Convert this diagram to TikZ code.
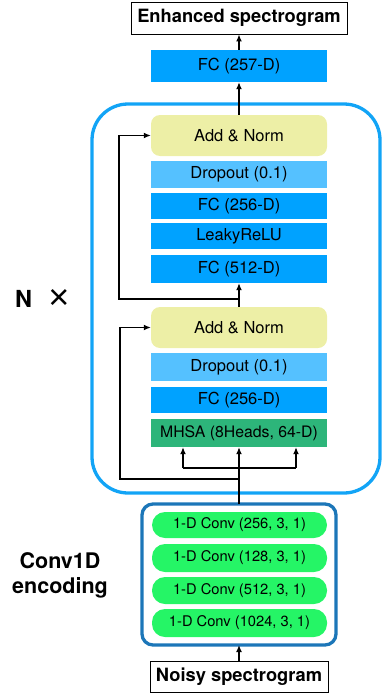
\documentclass[tikz,border=0pt]{standalone}
\usepackage{fontspec}
\setmainfont{TeX Gyre Heros}
\newfontfamily\libsans{Liberation Sans}
\usetikzlibrary{arrows.meta}
\definecolor{outerblue}{HTML}{12A4F6}
\definecolor{addnorm}{HTML}{EDEFA6}
\definecolor{dropblue}{HTML}{55C1FF}
\definecolor{fcblue}{HTML}{00A2FF}
\definecolor{mhsagreen}{HTML}{2DB57A}
\definecolor{convgreen}{HTML}{25F566}
\definecolor{convbox}{HTML}{1C76B8}
\tikzset{
  layer/.style={rectangle, minimum width=176pt, inner sep=0pt, font=\fontsize{16.5}{19}\selectfont, text=black},
  fcbox/.style={layer, fill=fcblue, minimum height=27pt},
  dropbox/.style={layer, fill=dropblue, minimum height=27pt},
  normbox/.style={layer, fill=addnorm, rounded corners=9pt, minimum height=41pt},
  mhsabox/.style={layer, fill=mhsagreen, minimum height=28pt, font=\fontsize{15.8}{19}\selectfont},
  convlayer/.style={rectangle, rounded corners=13pt, fill=convgreen, minimum width=175pt, minimum height=27pt, inner sep=0pt, font=\fontsize{14.7}{17}\selectfont},
  iobox/.style={rectangle, draw=black, line width=0.9pt, inner sep=0pt, font=\bfseries\fontsize{18.3}{21}\selectfont},
  conn/.style={line width=1.3pt, draw=black},
  arr/.style={conn, -{Latex[length=7pt,width=6pt]}},
}
\begin{document}
\begin{tikzpicture}[x=1pt,y=-1pt]
\useasboundingbox (0,0) rectangle (385,696);
% big transformer box
\draw[outerblue, line width=3.3pt, rounded corners=36pt] (92,104) rectangle (380,493);
% conv box
\draw[convbox, line width=3.3pt, rounded corners=11pt] (142,504) rectangle (336,645);

% IO boxes
\node[iobox, minimum width=216pt, minimum height=32pt] (out) at (239,18) {Enhanced spectrogram};
\node[iobox, minimum width=178pt, minimum height=31pt] (in) at (239,676.5) {Noisy spectrogram};

\node[fcbox, minimum height=32pt] (fc257) at (239,66) {FC (257-D)};

% upper block
\node[normbox] (an1) at (239,135.5) {Add \& Norm};
\node[dropbox] (do1) at (239,174.5) {Dropout (0.1)};
\node[fcbox, minimum height=26pt] (fc256a) at (239,206) {FC (256-D)};
\node[fcbox, minimum height=26pt] (relu) at (239,236) {LeakyReLU};
\node[fcbox, minimum height=28pt] (fc512) at (239,269) {FC (512-D)};

% lower block
\node[normbox] (an2) at (239,327.5) {Add \& Norm};
\node[dropbox, minimum height=28pt] (do2) at (239,367) {Dropout (0.1)};
\node[fcbox, minimum height=26pt] (fc256b) at (239,400) {FC (256-D)};
\node[mhsabox] (mhsa) at (239,433) {MHSA (8Heads, 64-D)};

% conv layers
\node[convlayer, minimum height=26pt] (c1) at (239.5,525) {1-D Conv (256, 3, 1)};
\node[convlayer, minimum height=28pt] (c2) at (239.5,558) {1-D Conv (128, 3, 1)};
\node[convlayer] (c3) at (239.5,590.5) {1-D Conv (512, 3, 1)};
\node[convlayer, minimum height=28pt] (c4) at (239.5,623) {1-D Conv (1024, 3, 1)};

% labels
\node[font=\bfseries\fontsize{21.5}{25}\selectfont, align=center] (convlabel) at (60,575) {Conv1D\\encoding};
\node[anchor=west, inner sep=0pt, font=\bfseries\fontsize{23.5}{26}\selectfont] (nlab) at (15,298.5) {N};
\node[anchor=center, inner sep=0pt, font=\libsans\fontsize{36}{38}\selectfont] (xlab) at (59,299.5) {×};

% coordinates
\coordinate (convtop) at (239,504);
\coordinate (convbot) at (239,645);
\coordinate (r2) at (239,479);
\coordinate (r2l) at (120,479);
\coordinate (split) at (239,468);
\coordinate (sl) at (183,468);
\coordinate (sr) at (296,468);
\coordinate (r1) at (239,299);
\coordinate (r1l) at (119,299);

% connectors
\draw[arr] (in.north) -- (convbot);
\draw[arr] (convtop) -- (mhsa.south);
\draw[conn] (sl) -- (sr);
\draw[arr] (sl) -- (sl |- mhsa.south);
\draw[arr] (sr) -- (sr |- mhsa.south);
\draw[arr] (r2) -- (r2l) -- (r2l |- an2.west) -- (an2.west);
\draw[arr] (an2.north) -- (fc512.south);
\draw[arr] (r1) -- (r1l) -- (r1l |- an1.west) -- (an1.west);
\draw[arr] (an1.north) -- (fc257.south);
\draw[arr] (fc257.north) -- (out.south);
\end{tikzpicture}
\end{document}
